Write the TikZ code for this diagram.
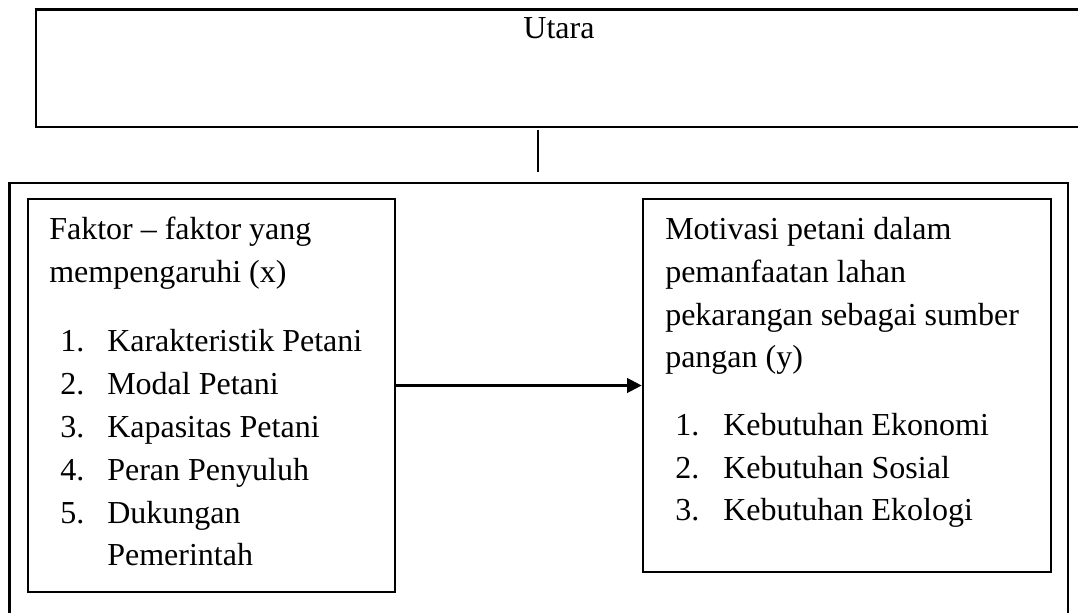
\documentclass[tikz,border=0pt]{standalone}
\usepackage{fontspec}
\setmainfont{Liberation Serif}
\usetikzlibrary{fit,arrows.meta}
\begin{document}
\begin{tikzpicture}[x=0.75pt,y=-0.75pt,
  txt/.style={anchor=base west,inner sep=0pt,font=\fontsize{24}{29}\selectfont},
  frame/.style={draw,line width=2.2pt,inner sep=0pt},
  inbox/.style={draw,line width=2pt,inner sep=0pt},
  conn/.style={line width=1.7pt}]
\useasboundingbox (0,0) rectangle (1078,613);
\clip (0,0) rectangle (1078,613);
% boxes
\node[frame,fit={(36,9.5) (1100,127)}] (top) {};
\node[frame,fit={(9.5,183) (1068,640)}] (outer) {};
\node[inbox,fit={(28,199) (395,592)}] (left) {};
\node[inbox,fit={(643,199) (1051,572)}] (right) {};
% title
\node[txt,anchor=base] (utara) at (559,39) {Utara};
% connectors
\coordinate (v1) at (538,130);
\coordinate (v2) at (538,172);
\draw[conn] (v1) -- (v2);
\draw[conn,-{Triangle[length=11pt,width=11pt]}] (left.east |- right.west) -- (right.west);
% left box text
\node[txt] (l1) at (49,239) {Faktor -- faktor yang};
\node[txt] (l2) at (49,282) {mempengaruhi (x)};
\node[txt] (n1) at (60,351) {1.};
\node[txt] (i1) at (107,351) {Karakteristik Petani};
\node[txt] (n2) at (60,394) {2.};
\node[txt] (i2) at (107,394) {Modal Petani};
\node[txt] (n3) at (60,437) {3.};
\node[txt] (i3) at (107,437) {Kapasitas Petani};
\node[txt] (n4) at (60,480) {4.};
\node[txt] (i4) at (107,480) {Peran Penyuluh};
\node[txt] (n5) at (60,523) {5.};
\node[txt] (i5) at (107,523) {Dukungan};
\node[txt] (i6) at (107,565) {Pemerintah};
% right box text
\node[txt] (r1) at (665,239) {Motivasi petani dalam};
\node[txt] (r2) at (665,282) {pemanfaatan lahan};
\node[txt] (r3) at (665,325) {pekarangan sebagai sumber};
\node[txt] (r4) at (665,367) {pangan (y)};
\node[txt] (m1) at (675,435) {1.};
\node[txt] (j1) at (723,435) {Kebutuhan Ekonomi};
\node[txt] (m2) at (675,478) {2.};
\node[txt] (j2) at (723,478) {Kebutuhan Sosial};
\node[txt] (m3) at (675,520) {3.};
\node[txt] (j3) at (723,520) {Kebutuhan Ekologi};
\end{tikzpicture}
\end{document}
